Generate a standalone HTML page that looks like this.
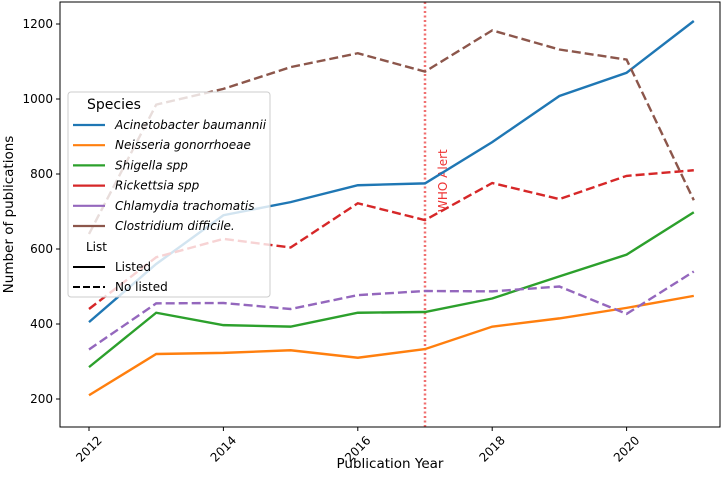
<!DOCTYPE html>
<html><head><meta charset="utf-8"><style>
body{margin:0;background:#fff;}
svg{font-family:"DejaVu Sans","Liberation Sans",sans-serif;}
</style></head><body>
<svg id="chart" width="726" height="472" xmlns="http://www.w3.org/2000/svg">
</svg>
<script>
const years=[2012,2013,2014,2015,2016,2017,2018,2019,2020,2021];
const acinetobacter=[405,560,690,725,770,775,885,1008,1070,1208];
const neisseria=[210,320,323,330,310,333,393,415,443,475];
const shigella=[285,430,397,393,430,432,468,527,585,698];
const rickettsia=[440,578,627,604,722,677,776,733,795,810];
const chlamydia=[332,455,456,440,477,488,487,500,427,540];
const clostridium=[640,985,1027,1085,1122,1073,1183,1132,1105,730];
const xTicks=[2012,2014,2016,2018,2020];
const yTicks=[200,400,600,800,1000,1200];
const alertYear=2017;
const NS="http://www.w3.org/2000/svg";
const L=60,R=720,T=2,B=427;
const x=v=>89+(v-2012)*67.2;
const y=v=>24+(1200-v)*0.375;
const svg=document.getElementById('chart');
function el(tag,attrs,parent){const e=document.createElementNS(NS,tag);for(const k in attrs)e.setAttribute(k,attrs[k]);(parent||svg).appendChild(e);return e;}
xTicks.forEach(t=>{
 const tk=el('line',{x1:x(t),x2:x(t),y1:B,y2:B+4,stroke:'#000'});
 
 
 const cx=x(t),cy=B+22;
 const tx=el('text',{x:cx,y:cy+4,'font-size':12,'text-anchor':'middle',transform:`rotate(-45 ${cx} ${cy})`});
 tx.textContent=t;
 
 
});
yTicks.forEach(t=>{
 const tk=el('line',{x1:L-4,x2:L,y1:y(t),y2:y(t),stroke:'#000'});
 
 
 const tx=el('text',{x:L-7,y:y(t)+4,'font-size':12,'text-anchor':'end'});
 tx.textContent=t;
 
 
});
const xt=el('text',{x:(L+R)/2,y:468,'font-size':13.5,'text-anchor':'middle'});xt.textContent='Publication Year';


const yt=el('text',{x:13,y:(T+B)/2,'font-size':13.5,'text-anchor':'middle',transform:`rotate(-90 13 ${(T+B)/2})`});yt.textContent='Number of publications';


const wl=el('line',{x1:x(alertYear),x2:x(alertYear),y1:T,y2:B,stroke:'#f07070','stroke-width':2.5,'stroke-dasharray':'2,2.5'});


const wx=x(alertYear)+22,wy=212;
const wt=el('text',{x:wx,y:wy,'font-size':12,fill:'#ee3333',transform:`rotate(-90 ${wx} ${wy})`});wt.textContent='WHO Alert';


const series=[
 ['acinetobacter',acinetobacter,'#1f77b4',false],
 ['neisseria',neisseria,'#ff7f0e',false],
 ['shigella',shigella,'#2ca02c',false],
 ['rickettsia',rickettsia,'#d62728',true],
 ['chlamydia',chlamydia,'#9467bd',true],
 ['clostridium',clostridium,'#8c564b',true]];
series.forEach(s=>{
 const p=el('polyline',{points:years.map((yr,i)=>x(yr)+','+y(s[1][i])).join(' '),fill:'none',stroke:s[2],'stroke-width':2.4,'stroke-dasharray':s[3]?'9,4':'none'});
 
 
});
const frame=el('rect',{x:L,y:T,width:R-L,height:B-T,fill:'none',stroke:'#000','stroke-width':1});


// legend
const lg=el('g',{});


el('rect',{x:68,y:92,width:202,height:205,rx:3,fill:'#fff','fill-opacity':0.8,stroke:'#ccc'},lg);
const lt=el('text',{x:87,y:109,'font-size':14},lg);lt.textContent='Species';
const names=['Acinetobacter baumannii','Neisseria gonorrhoeae','Shigella spp','Rickettsia spp','Chlamydia trachomatis','Clostridium difficile.'];
names.forEach((n,i)=>{
 const yy=125+i*20.2;
 el('line',{x1:73,x2:105,y1:yy,y2:yy,stroke:series[i][2],'stroke-width':2.2},lg);
 const t=el('text',{x:115,y:yy+4,'font-size':12,'font-style':'italic'},lg);t.textContent=n;
 
 
});
const lt2=el('text',{x:86,y:251,'font-size':12},lg);lt2.textContent='List';
el('line',{x1:73,x2:105,y1:267,y2:267,stroke:'#000','stroke-width':2},lg);
const a=el('text',{x:115,y:271,'font-size':12},lg);a.textContent='Listed';
el('line',{x1:73,x2:105,y1:287,y2:287,stroke:'#000','stroke-width':2,'stroke-dasharray':'7,3'},lg);
const b=el('text',{x:115,y:291,'font-size':12},lg);b.textContent='No listed';
</script>
</body></html>
